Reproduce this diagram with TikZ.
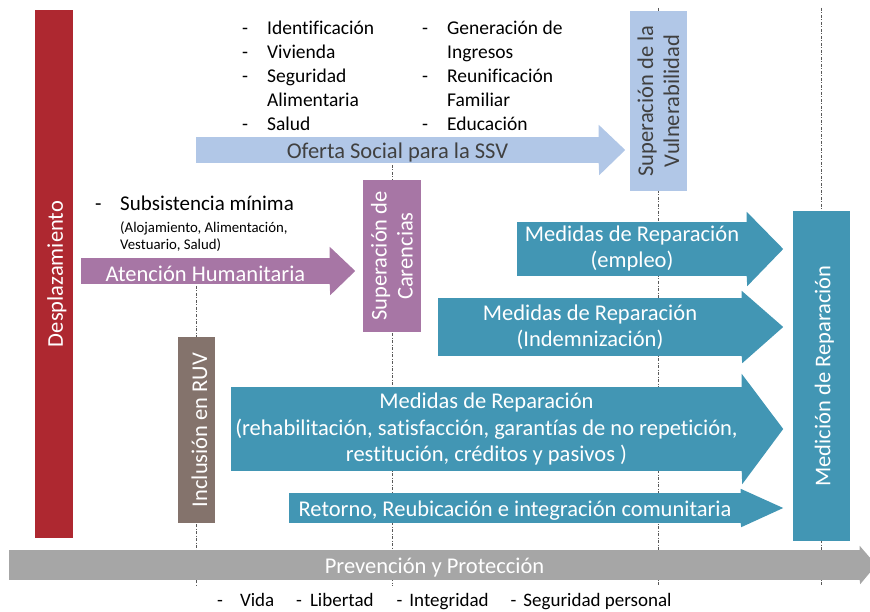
\documentclass[tikz,border=0pt]{standalone}
\usepackage{fontspec}
\setmainfont{Carlito}[Ligatures=NoCommon]
\usetikzlibrary{positioning,calc}

\definecolor{despred}{RGB}{174,40,48}
\definecolor{ssvblue}{RGB}{177,199,231}
\definecolor{humpurple}{RGB}{167,118,165}
\definecolor{ruvbrown}{RGB}{132,115,108}
\definecolor{repteal}{RGB}{66,150,180}
\definecolor{prevgray}{RGB}{166,166,166}
\definecolor{darktext}{RGB}{64,64,64}

\begin{document}
\begin{tikzpicture}[
    x=1pt,y=-1pt,
    font=\fontsize{22.5}{26}\selectfont,
    base/.style={rectangle,inner sep=0pt,align=center,execute at begin node={\rule{0pt}{0.95em}}},
    vbar/.style={base,rotate=90,text=white},
    abody/.style={base,text=white},
    guide/.style={draw=black!65,line width=0.7pt,dash pattern=on 3pt off 1.5pt on 1pt off 1.5pt},
    listtext/.style={inner sep=0pt,anchor=north west,font=\fontsize{19.5}{24}\selectfont}
  ]
  \useasboundingbox (0,0) rectangle (870,612);

  % time lines
  \foreach \x/\t in {196.5/286, 392/165, 658.5/8, 821.5/8}
    \draw[guide] (\x,\t) -- (\x,586);

  % vertical bars
  \node(despl) [vbar,fill=despred,minimum width=528,minimum height=38] at (54,274) {Desplazamiento};
  \node(ruv) [vbar,fill=ruvbrown,minimum width=186,minimum height=37] at (196.5,430) {Inclusión en RUV};
  \node(carenc) [vbar,fill=humpurple,minimum width=152,minimum height=58] at (392,256) {Superación de\\Carencias};
  \node(vulner) [vbar,fill=ssvblue,text=darktext,minimum width=180,minimum height=57] at (658.5,101) {Superación de la\\Vulnerabilidad};
  \node(medic) [vbar,fill=repteal,minimum width=330,minimum height=57] at (821.5,376) {Medición de Reparación};

  % arrow bodies
  \node(ofs) [abody,fill=ssvblue,text=darktext,minimum width=403,minimum height=26] at (397.5,150) {Oferta Social para la SSV};
  \node(atn) [abody,fill=humpurple,minimum width=249,minimum height=26] at (205.5,271) {Atención Humanitaria};
  \node(emp) [abody,fill=repteal,minimum width=230,minimum height=54] at (632,249) {Medidas de Reparación\\(empleo)};
  \node(ind) [abody,fill=repteal,minimum width=304,minimum height=58] at (590,327) {Medidas de Reparación\\(Indemnización)};
  \node(reh) [abody,fill=repteal,minimum width=511,minimum height=84] at (486.5,429) {Medidas de Reparación\\(rehabilitación, satisfacción, garantías de no repetición,\\restitución, créditos y pasivos )};
  \node(ret) [abody,fill=repteal,minimum width=452,minimum height=30] at (515,508) {Retorno, Reubicación e integración comunitaria};
  \node(prev) [abody,fill=prevgray,minimum width=851,minimum height=30] at (434.5,565) {Prevención y Protección};

  % arrow heads
  \foreach \b/\e/\l/\c in {ofs/12/26/ssvblue, atn/11/25/humpurple, emp/10/36/repteal,
      ind/7/41/repteal, reh/13/41/repteal, ret/4/42/repteal, prev/4/16/prevgray}
    \fill[\c] ($(\b.north east)+(-0.5,0)$) -- ++(0,-\e) -- ($(\b.east)+(\l,0)$)
      -- ($(\b.south east)+(0,\e)$) -- ($(\b.south east)+(-0.5,0)$) -- cycle;

  % lists
  \node(ofl) [listtext] at (242,18) {\begin{tabular}{@{}p{25pt}@{}l@{}}
    - & Identificación\\ - & Vivienda\\ - & Seguridad\\ & Alimentaria\\ - & Salud
  \end{tabular}};
  \node(ofr) [listtext] at (422,18) {\begin{tabular}{@{}p{25pt}@{}l@{}}
    - & Generación de\\ & Ingresos\\ - & Reunificación\\ & Familiar\\ - & Educación
  \end{tabular}};
  \node(subs) [inner sep=0pt,anchor=west,font=\fontsize{21}{25}\selectfont] at (95,206)
    {\begin{tabular}{@{}p{25pt}@{}l@{}} - & Subsistencia mínima\end{tabular}};
  \node(alim) [inner sep=0pt,anchor=north west,align=left,font=\fontsize{14.8}{17}\selectfont] at (120,221.5)
    {(Alojamiento, Alimentación,\\Vestuario, Salud)};
  \node(prot) [inner sep=0pt,anchor=base west,font=\fontsize{19}{24}\selectfont] at (217,606)
    {-\hspace{17pt}Vida\hspace{22pt}-\hspace{8pt}Libertad\hspace{23pt}-\hspace{7pt}Integridad\hspace{22pt}-\hspace{7pt}Seguridad personal};

\end{tikzpicture}
\end{document}
